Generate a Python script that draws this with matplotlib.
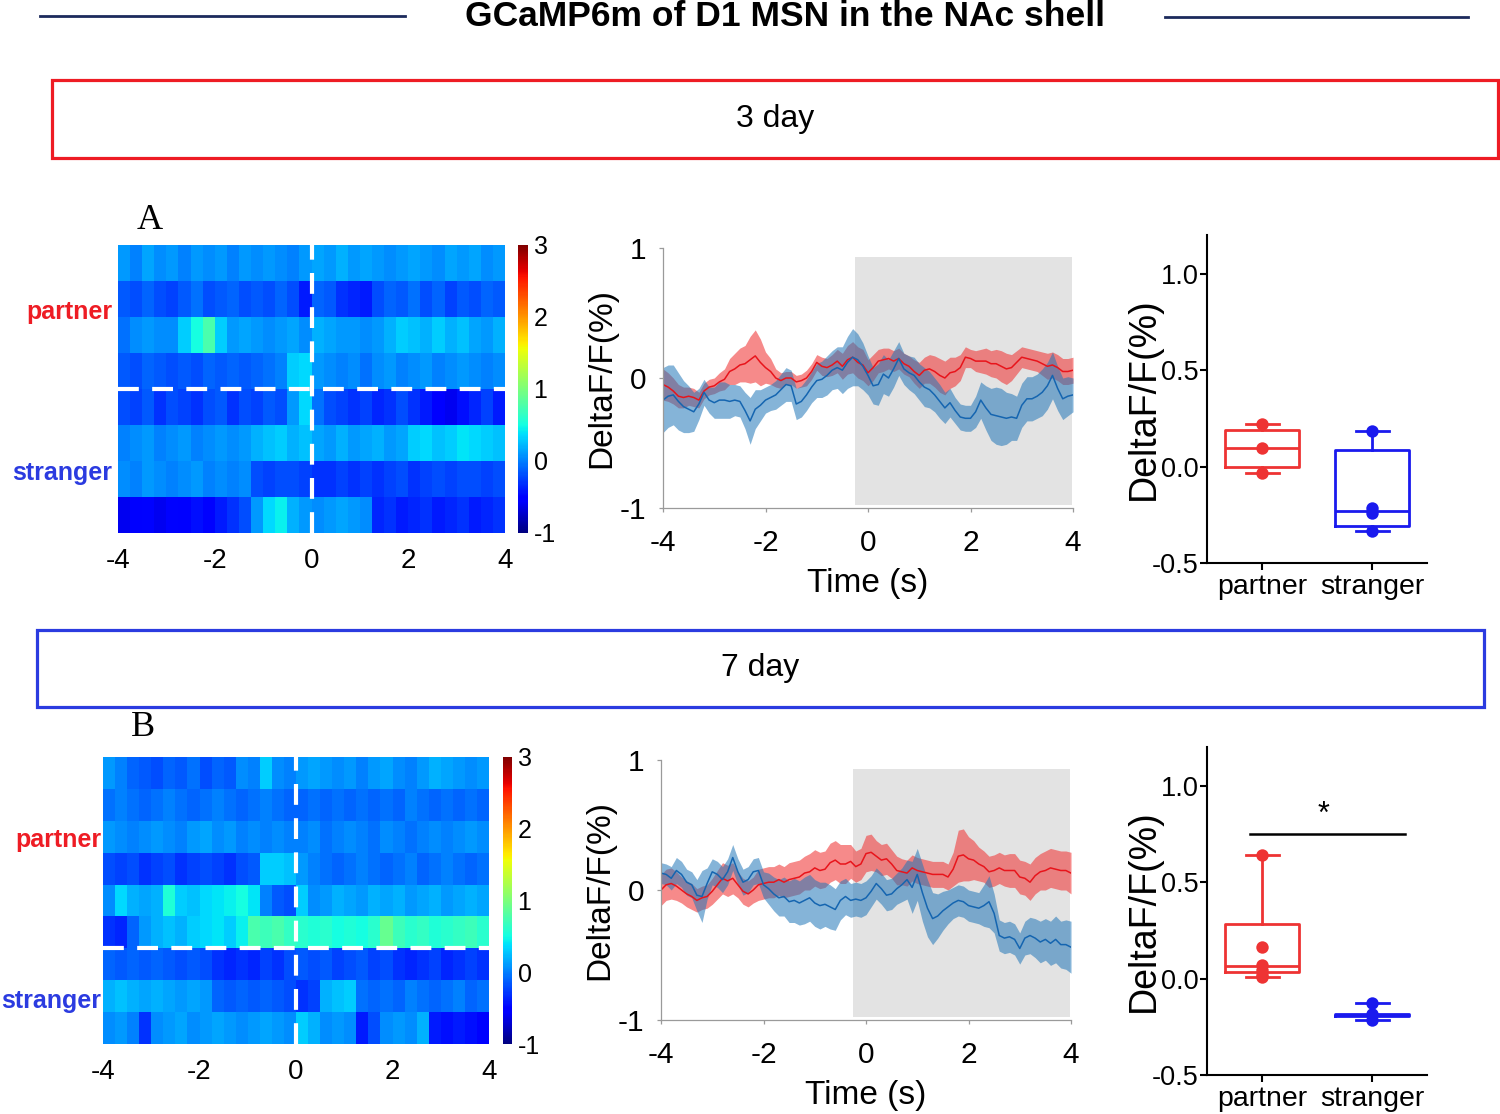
import numpy as np
import matplotlib
matplotlib.use("Agg")
import matplotlib.pyplot as plt
from matplotlib.patches import Rectangle
from matplotlib.lines import Line2D

plt.rcParams['font.family'] = ['Liberation Sans', 'DejaVu Sans']
plt.rcParams['axes.unicode_minus'] = False

# ---------------- data ----------------
heat_bins = np.linspace(-4, 4, 33)  # bin edges, 0.25 s

heat_3day = [
    [0.1, 0.0, 0.15, 0.05, 0.1, 0.0, 0.1, 0.05, 0.1, 0.0, 0.1, 0.05, 0.1, 0.05, 0.0, 0.1,
     0.15, 0.1, 0.2, 0.1, 0.15, 0.1, 0.05, 0.1, 0.15, 0.1, 0.05, 0.15, 0.1, 0.15, 0.05, 0.1],
    [-0.15, -0.2, -0.1, -0.2, -0.25, -0.15, -0.05, -0.2, -0.15, -0.1, -0.2, -0.15, -0.2, -0.1, -0.2, -0.4,
     -0.1, -0.15, -0.3, -0.35, -0.4, -0.2, -0.1, -0.15, -0.05, -0.2, -0.1, -0.25, -0.15, -0.2, -0.1, -0.15],
    [-0.05, 0.05, 0.1, 0.05, 0.05, 0.3, 0.5, 0.75, 0.3, 0.1, 0.15, 0.1, 0.05, 0.1, 0.15, 0.05,
     0.2, 0.15, 0.1, 0.1, 0.05, 0.1, 0.2, 0.3, 0.25, 0.2, 0.3, 0.2, 0.25, 0.15, 0.1, 0.2],
    [-0.15, -0.2, -0.1, -0.15, -0.2, -0.15, -0.2, -0.1, -0.15, -0.1, -0.15, -0.1, -0.05, 0.0, 0.3, 0.35,
     0.1, 0.05, 0.0, 0.05, -0.05, 0.05, 0.1, 0.0, 0.05, 0.1, 0.0, 0.05, 0.1, 0.05, 0.0, 0.05],
    [-0.2, -0.25, -0.15, -0.3, -0.2, -0.25, -0.3, -0.2, -0.15, -0.3, -0.2, -0.25, -0.15, -0.2, 0.1, 0.35,
     -0.05, -0.2, -0.25, -0.3, -0.25, -0.35, -0.3, -0.2, -0.3, -0.4, -0.55, -0.6, -0.45, -0.35, -0.25, -0.4],
    [0.0, 0.05, 0.1, 0.0, 0.05, 0.1, 0.0, 0.05, 0.1, 0.05, 0.1, 0.2, 0.25, 0.3, 0.2, 0.25,
     0.15, 0.1, 0.2, 0.1, 0.15, 0.2, 0.1, 0.15, 0.3, 0.35, 0.25, 0.3, 0.4, 0.35, 0.3, 0.25],
    [0.05, 0.0, 0.1, 0.05, 0.0, 0.05, 0.1, 0.0, 0.05, 0.0, 0.05, -0.2, -0.25, -0.2, -0.2, -0.25,
     -0.3, -0.3, -0.25, -0.3, -0.25, -0.3, -0.25, -0.2, -0.3, -0.25, -0.2, -0.25, -0.2, -0.2, -0.25, -0.2],
    [-0.6, -0.55, -0.5, -0.6, -0.5, -0.55, -0.45, -0.5, -0.4, -0.3, -0.2, 0.1, 0.35, 0.45, 0.2, 0.1,
     0.05, 0.1, 0.15, 0.1, 0.05, -0.35, -0.3, -0.4, -0.35, -0.3, -0.4, -0.35, -0.3, -0.4, -0.35, -0.3],
]

heat_7day = [
    [0.1, 0.0, -0.1, -0.15, -0.2, -0.1, -0.15, -0.05, -0.2, -0.1, -0.15, 0.05, 0.0, 0.3, 0.05, 0.0,
     0.1, 0.15, 0.1, 0.05, 0.1, 0.0, 0.1, 0.15, 0.05, 0.0, 0.1, 0.2, 0.15, 0.1, 0.05, 0.1],
    [-0.05, 0.0, -0.05, -0.1, -0.05, 0.0, -0.05, -0.1, -0.05, 0.0, -0.05, -0.1, -0.05, 0.0, -0.05, -0.1,
     -0.1, -0.05, -0.1, -0.05, -0.1, -0.05, -0.1, -0.05, -0.1, 0.0, -0.05, -0.1, -0.05, -0.1, -0.05, -0.1],
    [0.1, 0.05, 0.0, 0.05, 0.1, 0.05, 0.0, 0.1, 0.15, 0.05, 0.1, 0.0, 0.05, 0.0, 0.05, 0.0,
     0.0, 0.05, -0.05, 0.0, 0.05, 0.0, -0.05, 0.05, 0.0, -0.05, 0.0, 0.05, 0.0, 0.05, 0.1, 0.05],
    [-0.2, -0.25, -0.2, -0.3, -0.25, -0.2, -0.3, -0.25, -0.2, -0.25, -0.3, -0.2, -0.15, 0.3, 0.3, 0.25,
     0.1, 0.0, -0.05, -0.1, -0.05, 0.0, -0.05, -0.1, -0.05, 0.0, -0.1, -0.05, 0.0, -0.05, -0.1, -0.05],
    [0.05, 0.35, 0.2, 0.15, 0.2, 0.55, 0.3, 0.25, 0.35, 0.4, 0.45, 0.5, 0.4, 0.0, -0.15, -0.2,
     0.3, 0.05, 0.1, 0.2, 0.15, 0.1, 0.2, 0.15, 0.2, 0.1, 0.15, 0.2, 0.1, 0.15, 0.2, 0.15],
    [-0.3, -0.35, -0.1, 0.1, 0.2, 0.25, 0.2, 0.3, 0.35, 0.4, 0.3, 0.45, 0.75, 0.7, 0.75, 0.65,
     0.6, 0.55, 0.6, 0.5, 0.55, 0.5, 0.6, 0.9, 0.7, 0.6, 0.65, 0.55, 0.6, 0.65, 0.7, 0.6],
    [-0.1, -0.15, -0.1, -0.15, -0.1, -0.15, -0.2, -0.15, -0.2, -0.3, -0.35, -0.3, -0.35, -0.25, -0.3, -0.2,
     -0.15, -0.2, -0.15, -0.25, -0.2, -0.15, -0.25, -0.2, -0.3, -0.35, -0.3, -0.25, -0.35, -0.3, -0.25, -0.3],
    [0.2, 0.25, 0.2, 0.15, 0.2, 0.15, 0.1, 0.15, 0.1, -0.1, -0.15, -0.1, -0.15, -0.1, -0.15, -0.2,
     -0.3, -0.25, 0.2, 0.25, 0.3, -0.05, -0.1, -0.05, -0.1, 0.0, -0.05, -0.1, -0.05, 0.0, -0.1, -0.05],
    [0.05, 0.1, 0.0, -0.3, 0.05, 0.1, 0.15, 0.05, 0.1, 0.15, 0.1, 0.05, 0.1, 0.15, 0.1, 0.05,
     0.3, 0.2, 0.05, 0.1, 0.05, -0.4, -0.2, 0.05, 0.1, 0.05, 0.2, -0.4, -0.45, -0.4, -0.45, -0.5],
]
n_partner_3day = 4
n_partner_7day = 6

time_s = np.linspace(-4, 4, 81)  # 0.1 s steps

partner_3day = [-0.05, -0.07, -0.10, -0.14, -0.15, -0.14, -0.15, -0.17, -0.10, -0.07,
                -0.06, -0.03, -0.01, 0.05, 0.07, 0.10, 0.11, 0.14, 0.17, 0.12,
                0.08, 0.05, 0.00, -0.02, 0.00, 0.00, -0.03, -0.02, 0.00, 0.05,
                0.12, 0.09, 0.08, 0.10, 0.13, 0.09, 0.14, 0.16, 0.12, 0.10,
                0.04, 0.08, 0.13, 0.14, 0.15, 0.13, 0.15, 0.11, 0.09, 0.05,
                0.02, 0.06, 0.07, 0.05, 0.02, 0.00, 0.04, 0.05, 0.08, 0.16,
                0.15, 0.13, 0.13, 0.13, 0.11, 0.11, 0.09, 0.07, 0.08, 0.12,
                0.16, 0.15, 0.14, 0.13, 0.11, 0.09, 0.10, 0.08, 0.05, 0.05, 0.06]
partner_3day_sem = [0.12, 0.11, 0.10, 0.09, 0.08, 0.07, 0.07, 0.06, 0.06, 0.06, 0.06,
                    0.07, 0.08, 0.10, 0.12, 0.13, 0.14, 0.18, 0.20, 0.18, 0.12,
                    0.10, 0.07, 0.06, 0.05, 0.05, 0.05, 0.05, 0.06, 0.06, 0.06,
                    0.07, 0.07, 0.08, 0.09, 0.10, 0.11, 0.12, 0.12, 0.12, 0.10,
                    0.10, 0.09, 0.09, 0.08, 0.08, 0.08, 0.08, 0.08, 0.09, 0.10,
                    0.10, 0.11, 0.12, 0.13, 0.13, 0.12, 0.11, 0.10, 0.08, 0.07,
                    0.08, 0.09, 0.10, 0.10, 0.11, 0.12, 0.12, 0.10, 0.09, 0.08,
                    0.08, 0.08, 0.08, 0.09, 0.10, 0.10, 0.10, 0.10, 0.10, 0.10]
stranger_3day = [-0.17, -0.14, -0.13, -0.18, -0.22, -0.24, -0.26, -0.20, -0.11, -0.17,
                 -0.19, -0.17, -0.17, -0.18, -0.17, -0.18, -0.25, -0.33, -0.24, -0.21,
                 -0.17, -0.15, -0.13, -0.09, -0.05, -0.06, -0.20, -0.18, -0.13, -0.07,
                 -0.02, -0.01, 0.02, 0.06, 0.08, 0.06, 0.12, 0.16, 0.14, 0.09,
                 0.02, -0.06, -0.05, 0.03, 0.00, 0.07, 0.15, 0.07, 0.04, 0.02,
                 -0.03, -0.07, -0.09, -0.13, -0.18, -0.23, -0.19, -0.25, -0.30, -0.31,
                 -0.31, -0.26, -0.17, -0.23, -0.28, -0.29, -0.30, -0.31, -0.30, -0.31,
                 -0.21, -0.16, -0.16, -0.14, -0.11, -0.06, 0.02, -0.08, -0.16, -0.14, -0.13]
stranger_3day_sem = [0.25, 0.24, 0.23, 0.22, 0.20, 0.18, 0.15, 0.12, 0.10, 0.10, 0.12,
                     0.14, 0.14, 0.13, 0.12, 0.12, 0.14, 0.18, 0.15, 0.12, 0.10,
                     0.10, 0.11, 0.12, 0.13, 0.12, 0.12, 0.12, 0.12, 0.12, 0.13,
                     0.14, 0.15, 0.15, 0.16, 0.18, 0.20, 0.22, 0.20, 0.18, 0.15,
                     0.14, 0.16, 0.15, 0.14, 0.14, 0.13, 0.12, 0.13, 0.14, 0.14,
                     0.15, 0.14, 0.13, 0.13, 0.12, 0.11, 0.10, 0.10, 0.10, 0.10,
                     0.12, 0.14, 0.17, 0.20, 0.22, 0.22, 0.20, 0.18, 0.17, 0.17,
                     0.17, 0.17, 0.17, 0.18, 0.18, 0.18, 0.17, 0.16, 0.15, 0.13]

partner_7day = [0.00, 0.04, 0.05, 0.03, 0.00, -0.03, -0.05, -0.08, -0.06, -0.05,
                -0.01, 0.04, 0.09, 0.07, 0.09, 0.04, -0.01, -0.03, 0.00, 0.04,
                0.05, 0.06, 0.06, 0.08, 0.06, 0.08, 0.09, 0.10, 0.13, 0.14,
                0.17, 0.15, 0.16, 0.21, 0.23, 0.20, 0.20, 0.22, 0.18, 0.20,
                0.28, 0.29, 0.26, 0.23, 0.24, 0.20, 0.15, 0.14, 0.13, 0.17,
                0.15, 0.14, 0.13, 0.12, 0.12, 0.12, 0.10, 0.16, 0.26, 0.27,
                0.24, 0.23, 0.20, 0.18, 0.14, 0.15, 0.17, 0.15, 0.15, 0.15,
                0.10, 0.09, 0.06, 0.11, 0.14, 0.15, 0.17, 0.16, 0.15, 0.15, 0.13]
partner_7day_sem = [0.12, 0.12, 0.12, 0.11, 0.10, 0.10, 0.10, 0.09, 0.09, 0.09, 0.10,
                    0.11, 0.12, 0.12, 0.12, 0.10, 0.10, 0.10, 0.10, 0.12, 0.12,
                    0.12, 0.12, 0.12, 0.12, 0.13, 0.13, 0.13, 0.13, 0.14, 0.14,
                    0.14, 0.14, 0.15, 0.15, 0.15, 0.15, 0.13, 0.12, 0.12, 0.14,
                    0.14, 0.12, 0.12, 0.12, 0.11, 0.11, 0.10, 0.10, 0.10, 0.10,
                    0.10, 0.10, 0.10, 0.10, 0.10, 0.10, 0.13, 0.20, 0.20, 0.17,
                    0.15, 0.13, 0.12, 0.12, 0.12, 0.12, 0.12, 0.13, 0.13, 0.13,
                    0.13, 0.14, 0.14, 0.14, 0.15, 0.15, 0.15, 0.15, 0.15, 0.16]
stranger_7day = [0.13, 0.12, 0.09, 0.15, 0.12, 0.06, 0.04, -0.04, -0.05, 0.05,
                 0.14, 0.12, 0.08, 0.14, 0.25, 0.14, 0.06, 0.08, 0.14, 0.15,
                 0.04, 0.01, -0.03, -0.06, -0.05, -0.09, -0.08, -0.10, -0.08, -0.06,
                 -0.10, -0.12, -0.11, -0.13, -0.15, -0.08, -0.05, -0.08, -0.07, -0.08,
                 -0.06, -0.01, 0.05, 0.01, -0.04, -0.03, 0.01, 0.04, 0.08, 0.02,
                 0.12, -0.02, -0.14, -0.22, -0.20, -0.16, -0.13, -0.10, -0.08, -0.09,
                 -0.12, -0.13, -0.14, -0.12, -0.09, -0.18, -0.35, -0.37, -0.36, -0.38,
                 -0.45, -0.37, -0.35, -0.37, -0.40, -0.38, -0.41, -0.38, -0.42, -0.42, -0.44]
stranger_7day_sem = [0.08, 0.08, 0.09, 0.10, 0.10, 0.10, 0.10, 0.12, 0.20, 0.12, 0.10,
                     0.10, 0.10, 0.10, 0.10, 0.10, 0.10, 0.10, 0.10, 0.10, 0.10,
                     0.12, 0.13, 0.14, 0.15, 0.16, 0.17, 0.17, 0.18, 0.18, 0.18,
                     0.18, 0.17, 0.17, 0.16, 0.15, 0.14, 0.13, 0.13, 0.13, 0.13,
                     0.12, 0.12, 0.12, 0.12, 0.12, 0.12, 0.13, 0.15, 0.20, 0.20,
                     0.22, 0.22, 0.20, 0.17, 0.15, 0.13, 0.12, 0.12, 0.12, 0.12,
                     0.12, 0.12, 0.16, 0.20, 0.15, 0.12, 0.12, 0.12, 0.12, 0.12,
                     0.13, 0.14, 0.15, 0.16, 0.16, 0.17, 0.18, 0.18, 0.19, 0.20]

groups = ['partner', 'stranger']
# box summaries (whislo, q1, med, q3, whishi) and individual points
box_3day = [(-0.035, -0.005, 0.094, 0.19, 0.22), (-0.334, -0.308, -0.23, 0.085, 0.184)]
pts_3day = [[0.22, 0.094, -0.035], [0.184, -0.214, -0.24, -0.334]]
box_7day = [(0.01, 0.033, 0.066, 0.284, 0.638), (-0.215, -0.192, -0.189, -0.186, -0.128)]
pts_7day = [[0.638, 0.163, 0.07, 0.045, 0.02, 0.01], [-0.128, -0.184, -0.215]]

# ---------------- layout ----------------
W, H = 1500, 1114
fig = plt.figure(figsize=(W / 100, H / 100), dpi=100)


def px(x0, y0, x1, y1):
    return [x0 / W, 1 - y1 / H, (x1 - x0) / W, (y1 - y0) / H]


# title with side rules
fig.text(785 / W, 1 - 16 / H, 'GCaMP6m of D1 MSN in the NAc shell', ha='center', va='center',
         fontsize=25.5, fontweight='bold')
fig.add_artist(Line2D([40 / W, 405 / W], [1 - 16 / H, 1 - 16 / H], color='#1c2a5c', lw=2))
fig.add_artist(Line2D([1165 / W, 1468 / W], [1 - 17 / H, 1 - 17 / H], color='#1c2a5c', lw=2))

# section boxes
for (x0, y0, x1, y1), col, lab, tx, ty in [((52, 80, 1498, 158), '#ee1c24', '3 day', 775, 119),
                                            ((37, 630, 1484, 707), '#2b3be0', '7 day', 760, 668)]:
    fig.add_artist(Rectangle((x0 / W, 1 - y1 / H), (x1 - x0) / W, (y1 - y0) / H,
                             transform=fig.transFigure, fill=False, edgecolor=col, lw=2.3))
    fig.text(tx / W, 1 - ty / H, lab, ha='center', va='center', fontsize=23)

fig.text(150 / W, 1 - 220 / H, 'A', ha='center', va='center', fontsize=26, family='Liberation Serif')
fig.text(143 / W, 1 - 728 / H, 'B', ha='center', va='center', fontsize=26, family='Liberation Serif')


def draw_heatmap(rect, crect, data, n_partner, lab_x, lab_y):
    ax = fig.add_axes(px(*rect))
    cax = fig.add_axes(px(*crect))
    data = np.array(data)
    nrow = data.shape[0]
    im = ax.pcolormesh(heat_bins, np.arange(nrow + 1), data, cmap='jet', vmin=-1, vmax=3)
    ax.set_ylim(nrow, 0)
    ax.set_xlim(-4, 4)
    ax.axhline(n_partner, color='white', lw=3, dashes=(5, 3.2))
    ax.axvline(0, color='white', lw=3, dashes=(5, 3.2))
    ax.set_yticks([])
    ax.set_xticks([-4, -2, 0, 2, 4])
    ax.tick_params(axis='x', length=0, pad=11, labelsize=20)
    for s in ax.spines.values():
        s.set_visible(False)
    cb = fig.colorbar(im, cax=cax, ticks=[-1, 0, 1, 2, 3])
    cb.outline.set_visible(False)
    cax.tick_params(length=0, pad=4, labelsize=18)
    fig.text(lab_x / W, 1 - lab_y[0] / H, 'partner', color='#ee1c24', fontweight='bold',
             fontsize=18, ha='right', va='center')
    fig.text(lab_x / W, 1 - lab_y[1] / H, 'stranger', color='#2b3be0', fontweight='bold',
             fontsize=18, ha='right', va='center')


def draw_traces(rect, shade, p_mean, p_sem, s_mean, s_sem):
    ax = fig.add_axes(px(*rect))
    ax.axvspan(-0.25, 3.98, ymin=(shade[0] + 1) / 2, ymax=(shade[1] + 1) / 2,
               color='#e3e3e3', lw=0, zorder=0)
    p_mean, p_sem = np.array(p_mean), np.array(p_sem)
    s_mean, s_sem = np.array(s_mean), np.array(s_sem)
    ax.fill_between(time_s, p_mean - p_sem, p_mean + p_sem, color='#f03c3c', alpha=0.6, lw=0)
    ax.fill_between(time_s, s_mean - s_sem, s_mean + s_sem, color='#2277b8', alpha=0.55, lw=0)
    ax.plot(time_s, p_mean, color='#e8141b', lw=1.1)
    ax.plot(time_s, s_mean, color='#1565b0', lw=1.1)
    ax.set_xlim(-4, 4)
    ax.set_ylim(-1, 1)
    ax.set_xticks([-4, -2, 0, 2, 4])
    ax.set_yticks([-1, 0, 1])
    for k in ['top', 'right']:
        ax.spines[k].set_visible(False)
    for k in ['left', 'bottom']:
        ax.spines[k].set_color('#9a9a9a')
        ax.spines[k].set_linewidth(0.9)
    ax.tick_params(color='#9a9a9a', length=3, width=0.9, labelsize=21.5)
    ax.tick_params(axis='x', pad=12)
    ax.tick_params(axis='y', pad=9)
    ax.set_xlabel('Time (s)', fontsize=24, labelpad=8)
    ax.set_ylabel('DeltaF/F(%)', fontsize=24, labelpad=2)


def draw_box(rect, stats, pts, sig=False):
    ax = fig.add_axes(px(*rect))
    cols = ['#ee3333', '#1a1aee']
    for i, ((lo, q1, med, q3, hi), vals, c) in enumerate(zip(stats, pts, cols)):
        bstat = [dict(whislo=lo, q1=q1, med=med, q3=q3, whishi=hi, fliers=[])]
        ax.bxp(bstat, positions=[i], widths=0.67, capwidths=0.3,
               boxprops=dict(color=c, lw=2), whiskerprops=dict(color=c, lw=2),
               capprops=dict(color=c, lw=2), medianprops=dict(color=c, lw=2))
        ax.scatter([i] * len(vals), vals, s=80, color=c, zorder=3, lw=0)
    ax.set_xlim(-0.5, 1.5)
    ax.set_ylim(-0.5, 1.2)
    ax.set_yticks([-0.5, 0.0, 0.5, 1.0])
    ax.set_yticklabels(['-0.5', '0.0', '0.5', '1.0'])
    ax.set_xticks([0, 1])
    for k in ['top', 'right']:
        ax.spines[k].set_visible(False)
    for k in ['left', 'bottom']:
        ax.spines[k].set_linewidth(1.5)
    ax.tick_params(length=5, width=1.5, labelsize=19.5, pad=3)
    ax.tick_params(axis='y', pad=1)
    ax.set_xticklabels(groups, fontsize=20.5)
    ax.set_ylabel('DeltaF/F(%)', fontsize=27, labelpad=-7)
    if sig:
        ax.plot([-0.11, 1.3], [0.75, 0.75], color='black', lw=1.8)
        ax.text(0.56, 0.77, '*', ha='center', va='bottom', fontsize=22)


draw_heatmap((118, 245, 505, 533), (518, 245, 528, 533), heat_3day, n_partner_3day, 112, (312, 473))
draw_heatmap((103, 757, 489, 1044), (503, 757, 512, 1044), heat_7day, n_partner_7day, 101, (840, 1001))

draw_traces((663, 248, 1073, 508), (-0.98, 0.93), partner_3day, partner_3day_sem,
            stranger_3day, stranger_3day_sem)
draw_traces((661, 760, 1071, 1020), (-0.98, 0.93), partner_7day, partner_7day_sem,
            stranger_7day, stranger_7day_sem)

draw_box((1207, 235, 1427, 563), box_3day, pts_3day)
draw_box((1207, 747, 1427, 1075), box_7day, pts_7day, sig=True)

fig.savefig('out.png', dpi=100, facecolor='white')
